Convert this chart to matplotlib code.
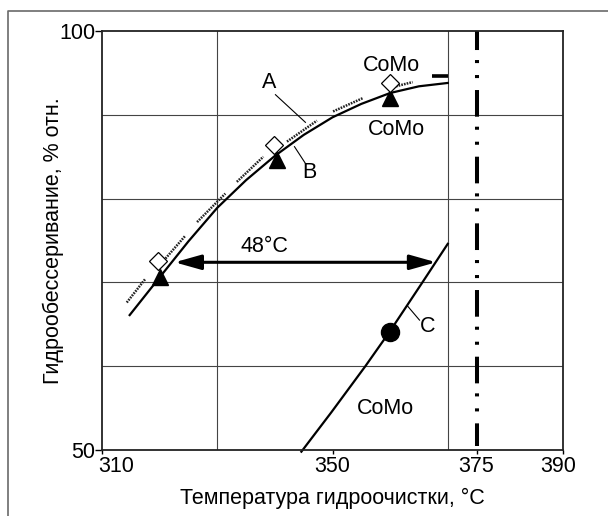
import numpy as np
import matplotlib
matplotlib.use('Agg')
import matplotlib.pyplot as plt
from matplotlib.lines import Line2D
from matplotlib.transforms import ScaledTranslation

plt.rcParams['font.family'] = ['Liberation Sans', 'DejaVu Sans']
plt.rcParams['font.size'] = 15.5
plt.rcParams['lines.scale_dashes'] = False

# Curve A/B (hydrodesulfurization vs temperature)
curve_ab_x = [314.8, 320.0, 325.0, 330.0, 335.0, 340.0, 345.0, 350.0, 355.0, 360.0, 365.0, 370.0]
curve_ab_y = [66.1, 70.6, 74.9, 78.9, 82.2, 85.1, 87.6, 89.7, 91.3, 92.6, 93.4, 93.8]

# scribble marks along the upper side of curve A
marks_x = [(314.3, 317.5), (320.7, 324.5), (326.5, 331.4), (333.4, 338.0),
           (342.1, 347.3), (350.1, 355.3), (361.0, 363.9)]
marks_y = [(67.6, 70.4), (72.6, 75.6), (77.2, 80.6), (82.0, 85.0),
           (86.8, 89.3), (90.4, 92.0), (93.4, 93.9)]

# Markers on curve A/B
tri_x = [320.0, 340.3, 359.9]
tri_y = [70.7, 84.6, 92.0]
dia_x = [319.7, 339.8, 359.9]
dia_y = [72.6, 86.4, 93.8]

# Curve C
curve_c_x = [344.6, 349.8, 355.7, 359.9, 365.6, 370.0]
curve_c_y = [49.8, 54.5, 60.0, 64.1, 70.0, 74.6]
dot_x, dot_y = 359.9, 64.1

# 48 C shift arrow
arrow_x = [322.6, 368.0]
arrow_y = 72.4

limit_temp = 375

x_ticks = [310, 350, 375, 390]
x_grid = [330, 350, 370]
y_ticks = [50, 100]
y_grid = [60, 70, 80, 90]

fig = plt.figure(figsize=(6.08, 5.16), dpi=100)
ax = fig.add_axes([102 / 608, 66 / 516, 461 / 608, 419 / 516])

# outer frame (only top and left edges fall inside the picture)
fig.add_artist(Line2D([8 / 608, 8 / 608, 1.0], [0.0, 1 - 11 / 516, 1 - 11 / 516],
                      transform=fig.transFigure, color='#6a6a6a', lw=1.2))

ax.set_xlim(310, 390)
ax.set_ylim(50, 100)
ax.set_xticks(x_ticks)
ax.set_yticks(y_ticks)
ax.set_xticks(x_grid, minor=True)
ax.set_yticks(y_grid, minor=True)
ax.grid(which='minor', color='#444444', lw=0.8)
ax.tick_params(which='minor', length=0)
ax.tick_params(axis='x', which='major', length=3, pad=1, width=1)
ax.tick_params(axis='y', which='major', length=5, pad=0, width=1)
for sp in ax.spines.values():
    sp.set_color('#222222')
    sp.set_linewidth(1.3)

# nudge the end tick labels like in the original
xl = ax.get_xticklabels()
xl[0].set_transform(xl[0].get_transform() + ScaledTranslation(0.14, 0, fig.dpi_scale_trans))
xl[-1].set_transform(xl[-1].get_transform() + ScaledTranslation(-0.05, 0, fig.dpi_scale_trans))

ax.set_xlabel('Температура гидроочистки, °C', labelpad=8)
ax.set_ylabel('Гидрообессеривание, % отн.', labelpad=-4)

# curves
ax.plot(curve_ab_x, curve_ab_y, color='black', lw=1.6)
for mx, my in zip(marks_x, marks_y):
    ax.plot(mx, my, color='#222222', lw=1.8, linestyle=(0, (1.2, 0.8)))
ax.plot([367.3, 370.0], [94.6, 94.6], color='black', lw=2.6, solid_capstyle='butt')
ax.plot(curve_c_x, curve_c_y, color='black', lw=1.6, clip_on=False)

ax.plot(tri_x, tri_y, '^', color='black', ms=11, ls='none')
ax.plot(dia_x, dia_y, 'D', mfc='white', mec='black', mew=0.9, ms=9, ls='none')
ax.plot(dot_x, dot_y, 'o', color='black', ms=13)

# 375 C limit line (dash-dot-dot)
ax.plot([limit_temp, limit_temp], [100, 50.5], color='black', lw=2.9,
        linestyle=(5.5, (19.2, 7.2, 2.2, 8.6, 2.2, 8.6)), dash_capstyle='butt')

# double arrow
ax.annotate('', xy=(arrow_x[0], arrow_y), xytext=(arrow_x[1], arrow_y),
            arrowprops=dict(arrowstyle='<|-|>,head_length=1.6,head_width=0.45',
                            color='black', lw=2.2, shrinkA=0, shrinkB=0,
                            mutation_scale=10))
ax.text(338.2, 74.3, '48°C', ha='center', va='center')

# labels with leader lines
ax.text(339.0, 93.9, 'A', ha='center', va='center')
ax.plot([340.1, 345.3], [92.4, 89.1], color='black', lw=0.8)
ax.text(346.0, 83.1, 'B', ha='center', va='center')
ax.plot([343.4, 345.3], [86.2, 84.2], color='black', lw=0.8)
ax.text(366.5, 64.7, 'C', ha='center', va='center')
ax.plot([363.0, 365.1], [67.2, 65.5], color='black', lw=0.8)

ax.text(360.2, 95.9, 'CoMo', ha='center', va='center')
ax.text(361.1, 88.2, 'CoMo', ha='center', va='center')
ax.text(359.2, 54.9, 'CoMo', ha='center', va='center')

fig.savefig('out.png', dpi=100)
